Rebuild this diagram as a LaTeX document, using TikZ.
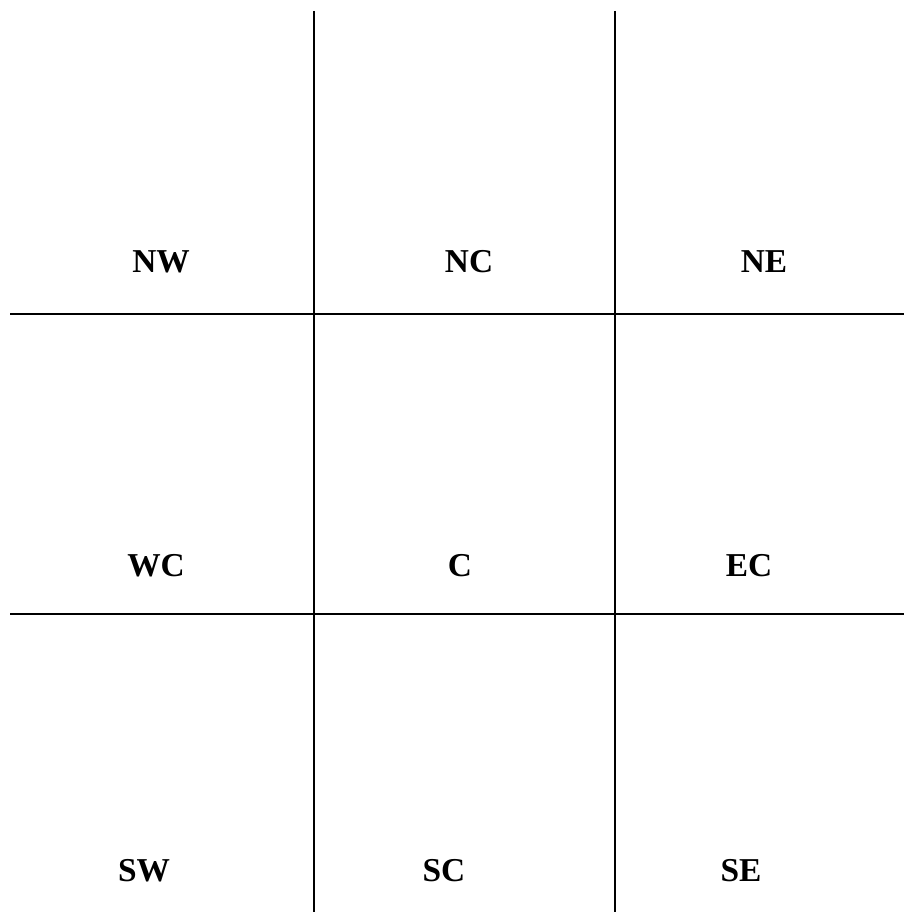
\documentclass[tikz,border=0pt]{standalone}
\usepackage{fontspec}
\setmainfont{Liberation Serif}
\usepackage{tikz}
\usetikzlibrary{positioning}

\begin{document}
\begin{tikzpicture}[x=0.02cm, y=-0.02cm,
    every node/.style={font=\fontsize{19}{21}\selectfont\bfseries, inner sep=0pt},
    grid line/.style={line width=1.1pt}]
  \useasboundingbox (0,0) rectangle (904,912);
  % grid
  \draw[grid line] (314,11) -- (314,912);
  \draw[grid line] (615,11) -- (615,912);
  \draw[grid line] (10,314) -- (904,314);
  \draw[grid line] (10,614) -- (904,614);
  % labels
  \node (nw) at (161,262) {NW};
  \node (nc) at (469,262) {NC};
  \node (ne) at (764,262) {NE};
  \node (wc) at (156,566) {WC};
  \node (c)  at (460,566) {C};
  \node (ec) at (749,566) {EC};
  \node (sw) at (144,871) {SW};
  \node (sc) at (444,871) {SC};
  \node (se) at (741,871) {SE};
\end{tikzpicture}
\end{document}
